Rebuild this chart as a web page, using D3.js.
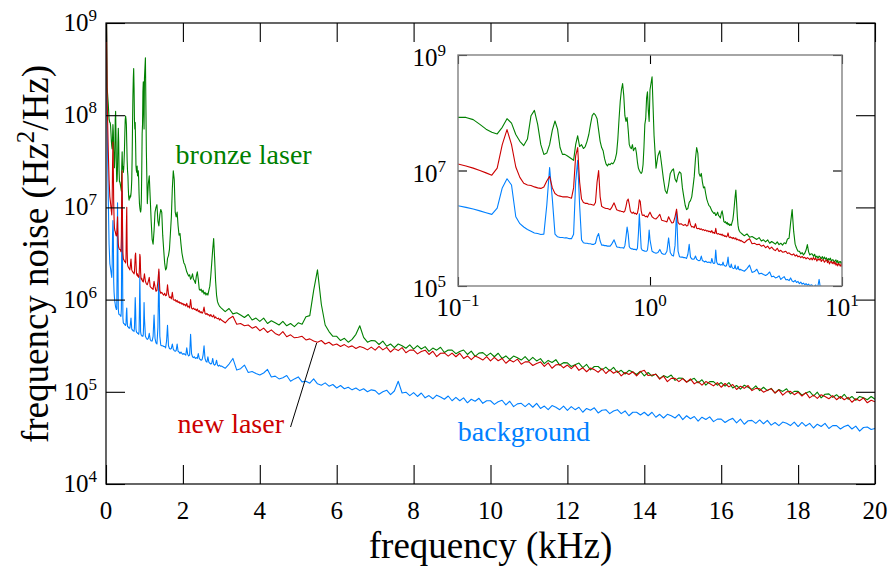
<!DOCTYPE html>
<html>
<head>
<meta charset="utf-8">
<script src="https://cdn.jsdelivr.net/npm/d3@7"></script>
<style>
  body { margin: 0; background: #fff; }
  svg { display: block; font-family: "Liberation Serif", "DejaVu Serif", serif; }
</style>
</head>
<body>
<svg id="chart" width="891" height="569"></svg>
<script>
// sampling grid of the spectra (kHz)
const freqLow = [0.005, 0.03, 0.06, 0.08];
const freqFine = d3.range(10, 100).map(i => i / 100);   // 0.10 .. 0.99
const freqMid = d3.range(40, 120).map(i => i / 40);     // 1.000 .. 2.975
const freqHigh = d3.range(30, 201).map(i => i / 10);    // 3.0 .. 20.0

// bronze laser (Hz^2/Hz)
const bronzeLow = [3e9, 2e8, 1.3e8, 9e7];
const bronzeFine = [
  8.3e7, 8.3e7, 7.6e7, 6.3e7, 5.2e7, 4.6e7, 4.3e7, 5.6e7, 7.9e7, 6.6e7,
  4.2e7, 3.2e7, 2.7e7, 3.5e7, 8.9e7, 1.1e8, 6.3e7, 2.8e7, 1.9e7, 2.0e7,
  2.8e7, 5.0e7, 7.2e7, 5.2e7, 2.5e7, 1.9e7, 1.9e7, 1.8e7, 1.7e7, 1.6e7,
  1.5e7, 2.8e7, 4.0e7, 2.6e7, 2.8e7, 2.4e7, 2.6e7, 3.2e7, 4.2e7, 6.3e7,
  8.9e7, 9.8e7, 9.1e7, 7.9e7, 5.0e7, 3.2e7, 2.5e7, 2.2e7, 1.6e7, 1.3e7,
  1.2e7, 1.3e7, 1.26e7, 1.35e7, 1.3e7, 1.4e7, 1.6e7, 2.0e7, 3.5e7, 7.9e7,
  1.6e8, 2.5e8, 3.2e8, 2.0e8, 8.9e7, 7.1e7, 8.3e7, 5.0e7, 2.8e7, 2.5e7,
  2.4e7, 2.8e7, 2.2e7, 2.4e7, 2.5e7, 2.0e7, 1.4e7, 1.1e7, 1.0e7, 9.3e6,
  8.9e6, 9.5e6, 1.26e7, 2.5e7, 6.3e7, 7.9e7, 1.8e8, 2.3e8, 1.1e8, 7.1e7
];
const bronzeMid = [
  2.5e8, 4.2e8, 4.0e7, 1.1e7, 1.8e7, 2.2e7, 1.26e7, 7.1e6, 4.5e6, 4.0e6,
  5.6e6, 8.9e6, 1.0e7, 1.07e7, 7.1e6, 6.3e6, 8.3e6, 9.5e6, 8.9e6, 5.0e6,
  3.5e6, 2.5e6, 2.1e6, 2.2e6, 2.8e6, 3.0e6, 3.5e6, 5.2e6, 7.9e6, 1.6e7,
  2.5e7, 2.0e7, 8.9e6, 7.9e6, 8.9e6, 6.3e6, 5.0e6, 5.2e6, 4.0e6, 3.2e6,
  2.8e6, 2.5e6, 2.4e6, 2.2e6, 2.0e6, 1.9e6, 1.8e6, 1.86e6, 1.66e6, 1.74e6,
  1.9e6, 1.66e6, 1.6e6, 1.5e6, 1.8e6, 2.0e6, 1.66e6, 1.3e6, 1.26e6, 1.3e6,
  1.2e6, 1.26e6, 1.15e6, 1.2e6, 1.12e6, 1.17e6, 1.12e6, 1.26e6, 1.4e6, 1.8e6,
  2.5e6, 3.5e6, 4.6e6, 2.8e6, 1.6e6, 1.12e6, 9.5e5, 8.9e5, 8.5e5, 8.3e5
];
const bronzeHigh = [
  8.1e5, 7.4e5, 8.0e5, 7.0e5, 7.2e5, 6.8e5, 6.4e5, 6.9e5, 6.0e5, 6.3e5,
  5.8e5, 6.3e5, 5.5e5, 5.9e5, 5.6e5, 5.3e5, 5.8e5, 5.2e5, 5.5e5, 5.1e5,
  5.6e5, 5.4e5, 6.5e5, 6.7e5, 1.25e6, 2.1e6, 8.9e5, 5.3e5, 4.5e5, 4.0e5,
  4.0e5, 3.6e5, 3.8e5, 3.45e5, 3.7e5, 4.2e5, 5.2e5, 3.9e5, 3.45e5, 3.6e5,
  3.57e5, 3.26e5, 3.55e5, 3.12e5, 3.30e5, 3.02e5, 3.30e5, 3.16e5, 2.97e5, 3.23e5,
  2.90e5, 3.17e5, 2.91e5, 3.09e5, 2.74e5, 2.98e5, 2.83e5, 3.04e5, 2.67e5, 2.84e5,
  2.83e5, 2.59e5, 2.73e5, 2.84e5, 2.54e5, 2.76e5, 2.42e5, 2.63e5, 2.66e5, 2.45e5,
  2.63e5, 2.40e5, 2.62e5, 2.30e5, 2.45e5, 2.24e5, 2.44e5, 2.34e5, 2.21e5, 2.41e5,
  2.16e5, 2.36e5, 2.16e5, 2.29e5, 2.02e5, 2.19e5, 2.08e5, 2.23e5, 1.95e5, 2.07e5,
  2.06e5, 1.88e5, 1.97e5, 2.05e5, 1.83e5, 1.98e5, 1.73e5, 1.88e5, 1.88e5, 1.73e5,
  1.85e5, 1.69e5, 1.84e5, 1.62e5, 1.71e5, 1.56e5, 1.71e5, 1.64e5, 1.54e5, 1.67e5,
  1.49e5, 1.62e5, 1.48e5, 1.56e5, 1.39e5, 1.50e5, 1.43e5, 1.52e5, 1.33e5, 1.41e5,
  1.40e5, 1.28e5, 1.34e5, 1.40e5, 1.25e5, 1.35e5, 1.18e5, 1.29e5, 1.29e5, 1.18e5,
  1.26e5, 1.15e5, 1.26e5, 1.10e5, 1.17e5, 1.07e5, 1.18e5, 1.12e5, 1.06e5, 1.16e5,
  1.03e5, 1.12e5, 1.03e5, 1.09e5, 9.7e4, 1.06e5, 1.01e5, 1.08e5, 9.5e4, 1.01e5,
  1.01e5, 9.2e4, 9.7e4, 1.01e5, 9.0e4, 9.9e4, 8.6e4, 9.4e4, 9.5e4, 8.7e4,
  9.3e4, 8.5e4, 9.4e4, 8.3e4, 8.9e4, 8.1e4, 8.9e4, 8.6e4, 8.2e4, 8.9e4,
  8.3e4
];

// new laser
const newLow = [3e9, 1.5e8, 4e7, 2e7];
const newFine = [
  1.3e7, 1.2e7, 1.1e7, 1.0e7, 9.1e6, 8.3e6, 1.1e7, 2.8e7, 5.1e7, 2.8e7,
  1.15e7, 7.6e6, 6.0e6, 5.6e6, 5.5e6, 5.2e6, 5.0e6, 4.9e6, 5.2e6, 6.6e6,
  7.9e6, 5.0e6, 4.0e6, 3.7e6, 3.6e6, 3.5e6, 3.5e6, 3.5e6, 3.4e6, 3.3e6,
  5.0e6, 1.8e7, 2.5e7, 6.3e6, 3.2e6, 2.8e6, 2.7e6, 2.7e6, 2.6e6, 2.6e6,
  2.55e6, 2.5e6, 2.8e6, 6.3e6, 1.0e7, 3.5e6, 2.4e6, 2.3e6, 2.25e6, 2.2e6,
  2.2e6, 2.15e6, 2.1e6, 2.25e6, 2.5e6, 2.75e6, 2.4e6, 2.1e6, 2.05e6, 2.0e6,
  2.0e6, 1.95e6, 1.95e6, 1.9e6, 2.0e6, 2.4e6, 3.0e6, 3.2e6, 2.6e6, 2.0e6,
  1.86e6, 1.82e6, 1.9e6, 1.78e6, 1.82e6, 1.74e6, 1.82e6, 2.2e6, 3.1e6, 2.9e6,
  2.0e6, 1.7e6, 1.66e6, 1.7e6, 1.62e6, 1.58e6, 1.62e6, 1.55e6, 1.66e6, 1.78e6
];
const newMid = [
  1.9e6, 1.58e6, 1.48e6, 1.45e6, 1.58e6, 1.74e6, 1.38e6, 1.35e6, 1.32e6, 1.29e6,
  1.58e6, 1.38e6, 1.23e6, 1.26e6, 1.58e6, 2.14e6, 1.26e6, 1.17e6, 1.2e6, 1.15e6,
  1.12e6, 1.17e6, 1.1e6, 1.12e6, 1.45e6, 1.15e6, 1.05e6, 1.07e6, 1.02e6, 1.2e6,
  1.0e6, 9.8e5, 1.0e6, 9.5e5, 9.8e5, 9.3e5, 9.5e5, 9.1e5, 9.3e5, 8.9e5,
  9.1e5, 8.7e5, 8.9e5, 8.5e5, 9.1e5, 8.3e5, 8.5e5, 8.1e5, 1.0e6, 8.1e5,
  7.9e5, 8.1e5, 7.8e5, 7.9e5, 7.6e5, 7.9e5, 7.4e5, 7.6e5, 7.2e5, 7.4e5,
  7.1e5, 7.4e5, 8.3e5, 7.1e5, 6.9e5, 7.1e5, 6.8e5, 6.9e5, 6.6e5, 6.9e5,
  6.6e5, 6.5e5, 6.8e5, 6.3e5, 6.5e5, 6.3e5, 6.2e5, 6.3e5, 6.0e5, 6.2e5
];
const newHigh = [
  6.0e5, 5.6e5, 6.2e5, 6.6e5, 5.4e5, 5.5e5, 5.2e5, 5.3e5, 4.9e5, 5.1e5,
  4.6e5, 4.9e5, 4.4e5, 4.7e5, 4.3e5, 4.1e5, 4.5e5, 3.95e5, 4.15e5, 3.85e5,
  3.9e5, 4.0e5, 3.65e5, 3.75e5, 3.55e5, 3.45e5, 3.6e5, 3.3e5, 3.45e5, 3.2e5,
  3.3e5, 3.1e5, 3.25e5, 3.05e5, 3.15e5, 2.95e5, 3.1e5, 3.0e5, 2.85e5, 3.05e5,
  2.83e5, 3.11e5, 2.85e5, 3.03e5, 2.70e5, 2.94e5, 2.80e5, 3.01e5, 2.65e5, 2.83e5,
  2.83e5, 2.58e5, 2.73e5, 2.83e5, 2.54e5, 2.75e5, 2.41e5, 2.62e5, 2.64e5, 2.44e5,
  2.63e5, 2.40e5, 2.62e5, 2.30e5, 2.45e5, 2.23e5, 2.44e5, 2.34e5, 2.21e5, 2.41e5,
  2.16e5, 2.36e5, 2.17e5, 2.30e5, 2.04e5, 2.21e5, 2.11e5, 2.26e5, 1.99e5, 2.11e5,
  2.11e5, 1.93e5, 2.03e5, 2.11e5, 1.89e5, 2.06e5, 1.80e5, 1.96e5, 1.98e5, 1.82e5,
  1.95e5, 1.78e5, 1.95e5, 1.71e5, 1.82e5, 1.65e5, 1.81e5, 1.74e5, 1.63e5, 1.78e5,
  1.58e5, 1.73e5, 1.59e5, 1.68e5, 1.49e5, 1.62e5, 1.54e5, 1.65e5, 1.49e5, 1.65e5,
  1.71e5, 1.50e5, 1.52e5, 1.55e5, 1.37e5, 1.48e5, 1.29e5, 1.40e5, 1.40e5, 1.29e5,
  1.39e5, 1.27e5, 1.38e5, 1.22e5, 1.29e5, 1.18e5, 1.29e5, 1.23e5, 1.16e5, 1.26e5,
  1.12e5, 1.23e5, 1.13e5, 1.20e5, 1.06e5, 1.15e5, 1.09e5, 1.17e5, 1.03e5, 1.09e5,
  1.08e5, 9.9e4, 1.04e5, 1.08e5, 9.7e4, 1.05e5, 9.2e4, 1.00e5, 1.01e5, 9.3e4,
  9.9e4, 9.0e4, 9.8e4, 8.6e4, 9.2e4, 8.5e4, 9.3e4, 8.9e4, 8.4e4, 9.1e4,
  8.2e4, 8.9e4, 8.2e4, 8.7e4, 7.7e4, 8.4e4, 8.0e4, 8.6e4, 7.6e4, 8.1e4,
  7.8e4
];

// background
const backgroundLow = [3e9, 8e7, 1.2e7, 4e6];
const backgroundFine = [
  2.45e6, 2.3e6, 2.15e6, 2.0e6, 1.86e6, 1.74e6, 2.24e6, 5.0e6, 7.2e6, 5.6e6,
  1.58e6, 1.2e6, 1.05e6, 9.5e5, 8.9e5, 8.3e5, 8.1e5, 7.8e5, 7.9e5, 2.5e6,
  1.12e7, 3.2e6, 7.9e5, 7.1e5, 6.9e5, 6.9e5, 6.8e5, 6.8e5, 6.6e5, 6.6e5,
  7.9e5, 6.3e6, 1.5e7, 2.5e6, 6.3e5, 5.6e5, 5.5e5, 5.5e5, 5.4e5, 5.4e5,
  5.25e5, 5.25e5, 5.5e5, 7.1e5, 8.1e5, 6.0e5, 5.1e5, 5.1e5, 5.0e5, 5.0e5,
  4.9e5, 4.9e5, 4.9e5, 5.25e5, 5.75e5, 6.3e5, 5.5e5, 4.8e5, 4.7e5, 4.7e5,
  4.6e5, 4.6e5, 4.6e5, 4.5e5, 5.0e5, 7.1e5, 1.05e6, 7.9e5, 4.8e5, 4.5e5,
  4.4e5, 4.4e5, 4.3e5, 4.3e5, 4.3e5, 4.2e5, 4.5e5, 7.9e5, 1.78e6, 8.9e5,
  4.5e5, 4.2e5, 4.1e5, 4.1e5, 4.0e5, 4.0e5, 4.0e5, 4.2e5, 5.6e5, 9.3e5
];
const backgroundMid = [
  6.3e5, 4.0e5, 3.8e5, 3.7e5, 3.8e5, 4.3e5, 3.7e5, 3.55e5, 3.55e5, 4.0e5,
  6.8e5, 3.8e5, 3.4e5, 3.3e5, 5.0e5, 2.0e6, 4.0e5, 3.2e5, 3.16e5, 3.16e5,
  3.1e5, 3.1e5, 3.0e5, 3.55e5, 5.25e5, 3.16e5, 2.95e5, 2.9e5, 2.95e5, 3.3e5,
  2.9e5, 2.8e5, 2.75e5, 2.8e5, 3.3e5, 2.75e5, 2.7e5, 2.6e5, 2.7e5, 2.6e5,
  2.55e5, 2.6e5, 2.55e5, 2.5e5, 3.0e5, 2.55e5, 2.45e5, 2.5e5, 4.2e5, 2.6e5,
  2.4e5, 2.35e5, 2.4e5, 2.3e5, 2.35e5, 2.3e5, 2.6e5, 2.3e5, 2.24e5, 2.2e5,
  2.24e5, 2.5e5, 3.16e5, 2.3e5, 2.14e5, 2.1e5, 2.4e5, 2.1e5, 2.04e5, 2.0e5,
  2.04e5, 2.3e5, 2.0e5, 1.95e5, 2.0e5, 2.2e5, 1.95e5, 1.9e5, 1.95e5, 1.9e5
];
const backgroundHigh = [
  1.9e5, 1.8e5, 2.0e5, 2.3e5, 1.72e5, 1.78e5, 1.95e5, 1.62e5, 1.66e5, 1.58e5,
  1.52e5, 1.6e5, 1.75e5, 1.45e5, 1.48e5, 1.38e5, 1.42e5, 1.5e5, 1.3e5, 1.38e5,
  1.45e5, 1.28e5, 1.3e5, 1.24e5, 1.38e5, 1.22e5, 1.18e5, 1.25e5, 1.15e5, 1.2e5,
  1.1e5, 1.17e5, 1.08e5, 1.12e5, 1.05e5, 1.1e5, 1.03e5, 1.08e5, 1.0e5, 1.05e5,
  1.03e5, 9.4e4, 1.00e5, 1.04e5, 9.3e4, 1.02e5, 1.30e5, 9.7e4, 9.9e4, 9.1e4,
  9.8e4, 8.9e4, 9.7e4, 8.6e4, 9.1e4, 8.4e4, 9.2e4, 8.8e4, 8.3e4, 9.0e4,
  8.0e4, 8.7e4, 8.0e4, 8.6e4, 7.6e4, 8.3e4, 7.9e4, 8.5e4, 7.5e4, 8.0e4,
  8.0e4, 7.3e4, 7.8e4, 8.1e4, 7.2e4, 7.9e4, 6.9e4, 7.4e4, 7.5e4, 6.9e4,
  7.5e4, 6.8e4, 7.5e4, 6.6e4, 7.0e4, 6.4e4, 7.1e4, 6.8e4, 6.4e4, 7.0e4,
  6.3e4, 6.9e4, 6.4e4, 6.8e4, 6.0e4, 6.6e4, 6.3e4, 6.7e4, 5.9e4, 6.3e4,
  6.4e4, 5.8e4, 6.2e4, 6.4e4, 5.8e4, 6.2e4, 5.5e4, 6.0e4, 6.0e4, 5.6e4,
  6.0e4, 5.5e4, 6.0e4, 5.3e4, 5.7e4, 5.2e4, 5.7e4, 5.5e4, 5.2e4, 5.7e4,
  5.0e4, 5.5e4, 5.1e4, 5.4e4, 4.8e4, 5.3e4, 5.0e4, 5.35e4, 4.75e4, 5.05e4,
  5.05e4, 4.65e4, 4.95e4, 5.15e4, 4.6e4, 5.05e4, 4.45e4, 4.85e4, 4.9e4, 4.55e4,
  4.95e4, 4.5e4, 4.9e4, 4.35e4, 4.65e4, 4.3e4, 4.7e4, 4.55e4, 4.3e4, 4.7e4,
  4.2e4, 4.65e4, 4.25e4, 4.55e4, 4.05e4, 4.45e4, 4.2e4, 4.55e4, 4.0e4, 4.3e4,
  4.3e4, 3.95e4, 4.2e4, 4.35e4, 3.95e4, 4.25e4, 3.75e4, 4.1e4, 4.15e4, 3.9e4,
  4.0e4
];

const xTicks = [0, 2, 4, 6, 8, 10, 12, 14, 16, 18, 20];
const yTickExp = [4, 5, 6, 7, 8, 9];
const insetXExp = [-1, 0, 1];
const insetYExp = [5, 7, 9];

const green = "#008000", red = "#cc0000", blue = "#0080ff";

function zip(f, v) {
  return f.map((d, i) => [d, v[i]]).filter(p => p[1] !== undefined);
}
function spectrum(low, fine, mid, high) {
  return zip(freqLow, low).concat(zip(freqFine, fine), zip(freqMid, mid), zip(freqHigh, high));
}

const series = [
  { name: "background", color: blue, pts: spectrum(backgroundLow, backgroundFine, backgroundMid, backgroundHigh) },
  { name: "bronze", color: green, pts: spectrum(bronzeLow, bronzeFine, bronzeMid, bronzeHigh) },
  { name: "new", color: red, pts: spectrum(newLow, newFine, newMid, newHigh) }
];

const svg = d3.select("#chart");
svg.append("rect").attr("width", 891).attr("height", 569).attr("fill", "#fff");

// ---------- main panel ----------
const x = d3.scaleLinear().domain([0, 20]).range([106, 875]);
const y = d3.scaleLog().domain([1e4, 1e9]).range([484, 23]);

svg.append("clipPath").attr("id", "mainClip")
  .append("rect")
  .attr("x", x(0)).attr("y", y(1e9))
  .attr("width", x(20) - x(0)).attr("height", y(1e4) - y(1e9));

const mainLine = d3.line().x(d => x(d[0])).y(d => y(d[1]));

svg.append("g").attr("clip-path", "url(#mainClip)")
  .selectAll("path")
  .data(series)
  .enter()
  .append("path")
  .attr("d", d => mainLine(d.pts))
  .attr("fill", "none")
  .attr("stroke", d => d.color)
  .attr("stroke-width", 1.1)
  .attr("stroke-linejoin", "round");

function tickAxis(axis, tx, ty) {
  const g = svg.append("g").attr("transform", `translate(${tx},${ty})`).call(axis);
  g.select(".domain").remove();
  g.selectAll("line").attr("stroke", "#000").attr("stroke-width", 1.1);
  g.selectAll("text").remove();
  return g;
}
tickAxis(d3.axisBottom(x).tickValues(xTicks).tickSize(-19), 0, y(1e4));
tickAxis(d3.axisTop(x).tickValues(xTicks).tickSize(-19), 0, y(1e9));
tickAxis(d3.axisLeft(y).tickValues(yTickExp.map(e => 10 ** e)).tickSize(-19), x(0), 0);
tickAxis(d3.axisRight(y).tickValues(yTickExp.map(e => 10 ** e)).tickSize(-19), x(20), 0);

svg.append("rect")
  .attr("x", x(0)).attr("y", y(1e9))
  .attr("width", x(20) - x(0)).attr("height", y(1e4) - y(1e9))
  .attr("fill", "none").attr("stroke", "#000").attr("stroke-width", 1.2);

// tick labels
svg.append("g").selectAll("text")
  .data(xTicks)
  .enter()
  .append("text")
  .attr("x", d => x(d))
  .attr("y", 519)
  .attr("text-anchor", "middle")
  .attr("font-size", 25)
  .text(d => d);

function powerLabel(g, e, sup, rise) {
  g.append("tspan").text("10");
  g.append("tspan").attr("dy", -rise).attr("font-size", sup).text(e < 0 ? "\u2212" + (-e) : e);
}

yTickExp.forEach(e => {
  const t = svg.append("text")
    .attr("x", x(0) - 9)
    .attr("y", y(10 ** e) + 8)
    .attr("text-anchor", "end")
    .attr("font-size", 25);
  powerLabel(t, e, 17, 10);
});

// axis titles
svg.append("text")
  .attr("x", x(10))
  .attr("y", 558)
  .attr("text-anchor", "middle")
  .attr("font-size", 37)
  .text("frequency (kHz)");

const yt = svg.append("text")
  .attr("transform", "translate(48,254) rotate(-90)")
  .attr("text-anchor", "middle")
  .attr("font-size", 37);
yt.append("tspan").text("frequency noise (Hz");
yt.append("tspan").attr("dy", -14).attr("font-size", 25).text("2");
yt.append("tspan").attr("dy", 14).text("/Hz)");

// series labels
svg.append("text").attr("x", x(1.81)).attr("y", y(2.95e7))
  .attr("font-size", 28).attr("fill", green).text("bronze laser");
svg.append("text").attr("x", x(1.86)).attr("y", y(3.6e4))
  .attr("font-size", 28).attr("fill", red).text("new laser");
svg.append("text").attr("x", x(9.15)).attr("y", y(2.9e4))
  .attr("font-size", 28).attr("fill", blue).text("background");

svg.append("line")
  .attr("x1", x(4.8)).attr("y1", y(4.15e4))
  .attr("x2", x(5.48)).attr("y2", y(3.4e5))
  .attr("stroke", "#000").attr("stroke-width", 1);

// ---------- inset ----------
const xi = d3.scaleLog().domain([0.1, 10]).range([458, 842]);
const yi = d3.scaleLog().domain([1e5, 1e9]).range([286, 55]);

svg.append("rect")
  .attr("x", xi(0.1)).attr("y", yi(1e9))
  .attr("width", xi(10) - xi(0.1)).attr("height", yi(1e5) - yi(1e9))
  .attr("fill", "#fff");

svg.append("clipPath").attr("id", "insetClip")
  .append("rect")
  .attr("x", xi(0.1)).attr("y", yi(1e9))
  .attr("width", xi(10) - xi(0.1)).attr("height", yi(1e5) - yi(1e9));

const insetLine = d3.line().x(d => xi(d[0])).y(d => yi(d[1]));

svg.append("g").attr("clip-path", "url(#insetClip)")
  .selectAll("path")
  .data(series)
  .enter()
  .append("path")
  .attr("d", d => insetLine(d.pts))
  .attr("fill", "none")
  .attr("stroke", d => d.color)
  .attr("stroke-width", 1.1)
  .attr("stroke-linejoin", "round");

const ixt = insetXExp.map(e => 10 ** e), iyt = insetYExp.map(e => 10 ** e);
tickAxis(d3.axisBottom(xi).tickValues(ixt).tickSize(-9), 0, yi(1e5));
tickAxis(d3.axisTop(xi).tickValues(ixt).tickSize(-9), 0, yi(1e9));
tickAxis(d3.axisLeft(yi).tickValues(iyt).tickSize(-9), xi(0.1), 0);
tickAxis(d3.axisRight(yi).tickValues(iyt).tickSize(-9), xi(10), 0);

svg.append("rect")
  .attr("x", xi(0.1)).attr("y", yi(1e9))
  .attr("width", xi(10) - xi(0.1)).attr("height", yi(1e5) - yi(1e9))
  .attr("fill", "none").attr("stroke", "#808080").attr("stroke-width", 1.4);

insetXExp.forEach(e => {
  const t = svg.append("text")
    .attr("x", xi(10 ** e))
    .attr("y", 316)
    .attr("text-anchor", "middle")
    .attr("font-size", 25);
  powerLabel(t, e, 17, 10);
});
insetYExp.forEach(e => {
  const t = svg.append("text")
    .attr("x", xi(0.1) - 12)
    .attr("y", yi(10 ** e) + 11)
    .attr("text-anchor", "end")
    .attr("font-size", 25);
  powerLabel(t, e, 17, 10);
});
</script>
</body>
</html>
